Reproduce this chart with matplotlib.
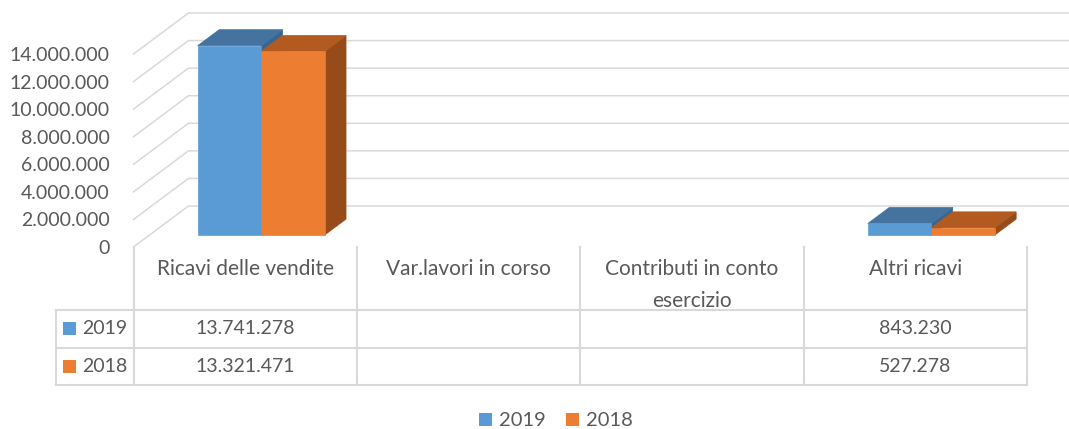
import numpy as np
import matplotlib
matplotlib.use("Agg")
import matplotlib.pyplot as plt
from matplotlib.patches import Polygon, Rectangle
from matplotlib.lines import Line2D
from matplotlib.transforms import IdentityTransform

plt.rcParams['font.family'] = ['Lato', 'DejaVu Sans']

# dati
categories = ["Ricavi delle vendite", "Var.lavori in corso",
              "Contributi in conto\nesercizio", "Altri ricavi"]
series = ["2019", "2018"]
values_2019 = [13741278, None, None, 843230]
values_2018 = [13321471, None, None, 527278]
yticks = [0, 2000000, 4000000, 6000000, 8000000, 10000000, 12000000, 14000000]

front_col = ["#5B9BD5", "#ED7D31"]
top_col = ["#44739F", "#B35A20"]
side_col = ["#3B6590", "#974A1A"]
grid_col = "#D9D9D9"
txt_col = "#595959"

W, H = 1069, 429
fig = plt.figure(figsize=(W / 100, H / 100), dpi=100)


def box(x0, y0, x1, y1):
    # pixel (dall'alto) -> frazione figura
    return [x0 / W, 1 - y1 / H, (x1 - x0) / W, (y1 - y0) / H]


def fmt(v):
    return f"{int(v):,}".replace(",", ".")


ax = fig.add_axes(box(133.5, 54, 1027, 247))
ax.set_autoscale_on(False)
ax.set_xlim(0, 4)
ax.set_ylim(0, 14000000)
for s in ax.spines.values():
    s.set_visible(False)
ax.set_xticks([])
ax.set_yticks(yticks)
ax.set_yticklabels([fmt(v) for v in yticks])
ax.tick_params(axis='y', length=0, pad=17, labelsize=14, labelcolor=txt_col)
ax.patch.set_visible(False)

depth = np.array([55.0, 41.0])  # profondita' del pavimento in px


def proj(x, y, d):
    return ax.transData.transform((x, y)) + d * depth


# griglia: parete laterale + parete di fondo
for v in yticks:
    pts = np.array([proj(0, v, 0), proj(0, v, 1), proj(4.2, v, 1)])
    ax.add_line(Line2D(pts[:, 0], pts[:, 1], transform=IdentityTransform(),
                       color=grid_col, lw=1.1, clip_on=False, zorder=1))

# barre 3D
bw = 0.284
d0, d1 = 0.29, 0.68
for i in range(len(categories)):
    for j, vals in enumerate([values_2019, values_2018]):
        v = vals[i]
        if v is None:
            continue
        x0 = i + 0.5 - bw + j * bw
        x1 = x0 + bw
        side = [proj(x1, 0, d0), proj(x1, 0, d1), proj(x1, v, d1), proj(x1, v, d0)]
        top = [proj(x0, v, d0), proj(x1, v, d0), proj(x1, v, d1), proj(x0, v, d1)]
        front = [proj(x0, 0, d0), proj(x1, 0, d0), proj(x1, v, d0), proj(x0, v, d0)]
        for poly, c in [(side, side_col[j]), (top, top_col[j]), (front, front_col[j])]:
            ax.add_patch(Polygon(poly, closed=True, transform=IdentityTransform(),
                                 facecolor=c, edgecolor=c, lw=0.5, clip_on=False, zorder=3))

# tabella dati
tab = fig.add_axes(box(56, 247, 1027, 385))
tab.set_xlim(-0.347, 4)
tab.set_ylim(0, 3.68)
tab.axis('off')
lk = dict(color=grid_col, lw=1.5, clip_on=False)
for k in range(5):
    tab.plot([k, k], [0, 3.68], **lk)
tab.plot([-0.347, -0.347], [0, 2], **lk)
for r in [0, 1, 2]:
    tab.plot([-0.347, 4], [r, r], **lk)

for i, c in enumerate(categories):
    tab.text(i + 0.5, 3.35, c, ha='center', va='top', fontsize=15,
             color=txt_col, linespacing=1.7)

for r, (name, vals) in enumerate(zip(series, [values_2019, values_2018])):
    yc = 1.5 - r
    tab.add_patch(Rectangle((-0.316, yc - 0.17), 0.059, 0.347,
                            facecolor=front_col[r], edgecolor='none', clip_on=False))
    tab.text(-0.231, yc, name, ha='left', va='center', fontsize=14, color=txt_col)
    for i, v in enumerate(vals):
        if v is not None:
            tab.text(i + 0.5, yc, fmt(v), ha='center', va='center',
                     fontsize=14, color=txt_col)

# legenda
handles = [Rectangle((0, 0), 1, 1, facecolor=c) for c in front_col]
fig.legend(handles, series, loc='lower center', bbox_to_anchor=(0.52, -0.043),
           ncol=2, frameon=False, fontsize=14.5, labelcolor=txt_col,
           handlelength=0.65, handleheight=0.65, handletextpad=0.35,
           columnspacing=1.0)

fig.savefig("out.png", dpi=100, facecolor="white")
